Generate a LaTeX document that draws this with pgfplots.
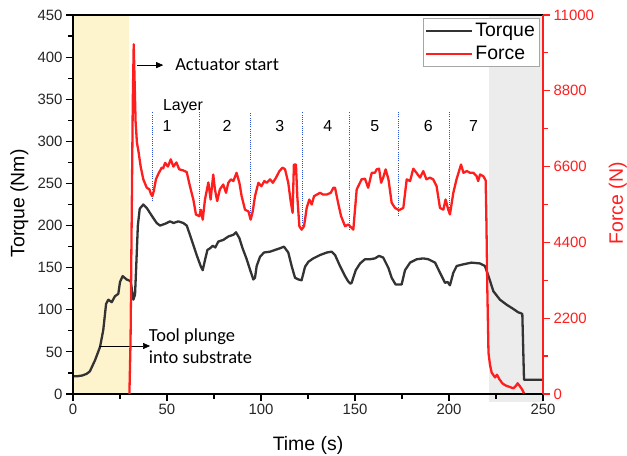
\documentclass[border=0pt]{standalone}
\usepackage{pgfplots}
\pgfplotsset{compat=1.18}
\usepackage{fontspec}
\setmainfont{Liberation Sans}
\newfontfamily\calibri{Carlito}
\usetikzlibrary{arrows.meta}

\definecolor{myred}{RGB}{255,30,30}
\definecolor{mydark}{RGB}{51,51,51}
\definecolor{myyellow}{RGB}{253,243,205}
\definecolor{mygrey}{RGB}{236,236,236}
\definecolor{myblue}{RGB}{40,80,220}
\tikzset{
 layerlab/.style={font=\fontsize{16}{19}\selectfont},
 vline/.style={myblue, line width=0.9bp, dash pattern=on 0.8bp off 1.4bp},
}

\begin{document}
\begin{tikzpicture}
\begin{axis}[
 at={(0,0)}, anchor=south west,
 scale only axis, width=470bp, height=379bp,
 xmin=0, xmax=250, ymin=0, ymax=450,
 xtick={0,50,100,150,200,250}, ytick={0,50,100,150,200,250,300,350,400,450},
 minor x tick num=1, minor y tick num=1,
 tick align=outside, xtick pos=bottom, ytick pos=left,
 major tick length=7bp, minor tick length=4.5bp,
 axis line style={line width=1.5bp, black},
 every tick/.style={line width=1.2bp, black},
 tick label style={font=\fontsize{15}{17}\selectfont, text=black!85},
 /pgf/number format/assume math mode=true,
 xlabel={Time (s)}, ylabel={Torque (Nm)},
 label style={font=\fontsize{19.5}{22}\selectfont},
 xlabel style={at={(axis description cs:0.5,-0.137)}, anchor=center},
 ylabel style={at={(axis description cs:-0.114,0.503)}, anchor=center},
 axis on top, clip=false,
]
\addplot[fill=myyellow, draw=none, forget plot] coordinates {(0,0)(30,0)(30,450)(0,450)} -- cycle;
\addplot[fill=mygrey, draw=none, forget plot] coordinates {(221.3,-9)(250,-9)(250,450)(221.3,450)} -- cycle;

\addplot[vline, forget plot] coordinates {(42.4,229)(42.4,334.5)};
\addplot[vline, forget plot] coordinates {(67.5,211)(67.5,334.5)};
\addplot[vline, forget plot] coordinates {(94.5,215)(94.5,334.5)};
\addplot[vline, forget plot] coordinates {(122.2,195)(122.2,334.5)};
\addplot[vline, forget plot] coordinates {(147,195)(147,334.5)};
\addplot[vline, forget plot] coordinates {(173,211)(173,334.5)};
\addplot[vline, forget plot] coordinates {(200,219)(200,334.5)};

\addplot[mydark, line width=2.3bp, line join=round] coordinates {
(0,21)(2,21)(5,22)(7.3,24)(9,27)(11.7,40)(14.4,56)(16.1,76)(17.6,107)(18.8,112)(20.6,109)(22.3,116)(24.1,119)(25,133)(26.4,140)(28.5,136)(30.7,134)(32.1,112)(33,118)(33.6,150)(34.5,200)(35.5,220)(37.4,225)(39.2,221)(41.8,212)(44.5,203)(46.3,200)(48.9,202)(51.6,205)(53.5,203)(56,205)(58.7,203)(60.5,200)(62.2,189)(64,177)(66.1,163)(67.9,152)(69,147)(70.2,159)(71.5,171)(72.9,173)(74.3,176)(75.7,174)(77.3,181)(80,183)(82.6,187)(85.3,189)(86.7,192)(88.5,185)(90.2,173)(92.4,160)(94.1,148)(95.9,136)(96.8,138)(97.7,152)(99.5,163)(101.6,168)(104.8,169)(107.4,171)(110.1,173)(112.2,175)(114.5,168)(116.3,152)(118.1,138)(119.9,136)(121.6,135)(123.4,151)(125.2,157)(127.8,161)(131.4,165)(135,168)(137.6,169)(139.4,165)(142,152)(144.7,140)(146.3,134)(147.5,131)(148.2,132)(150.4,147)(152.7,155)(155.3,160)(158,160)(160.6,161)(162.8,164)(165,162)(167.7,150)(169.5,138)(171.6,130)(174.8,130)(176.6,147)(179.3,156)(182.8,160)(186.3,161)(189,160)(192.6,156)(195.2,144)(197.9,132)(199.3,133)(200.5,129)(202.3,144)(204.1,152)(207.7,154)(212,156)(216.5,155)(219.1,152)(221,140)(223.6,122)(227.1,112)(230.7,106)(234.2,101)(236.8,97)(238.1,96)(239,95)(239.9,17)(250,17)
};

\draw[-{Triangle[length=7bp,width=6bp]}, line width=0.6bp] (axis cs:34.3,390.5) -- (axis cs:48,390.5);
\node[anchor=west, inner sep=0pt, font=\calibri\fontsize{18.5}{21}\selectfont] at (axis cs:54.3,390.5) {Actuator start};
\draw[-{Triangle[length=7bp,width=6bp]}, line width=0.6bp] (axis cs:13.8,57) -- (axis cs:41,57);
\node[anchor=west, inner sep=0pt, align=left, font=\calibri\fontsize{18.5}{22}\selectfont] at (axis cs:40.3,57) {Tool plunge\\into substrate};

\node[layerlab] at (axis cs:58.5,341.7) {Layer};
\node[layerlab] at (axis cs:50,318) {1};
\node[layerlab] at (axis cs:82,318) {2};
\node[layerlab] at (axis cs:110,318) {3};
\node[layerlab] at (axis cs:135.6,318) {4};
\node[layerlab] at (axis cs:160.6,318) {5};
\node[layerlab] at (axis cs:189,318) {6};
\node[layerlab] at (axis cs:213,318) {7};
\end{axis}

\begin{axis}[
 at={(0,0)}, anchor=south west,
 scale only axis, width=470bp, height=379bp,
 xmin=0, xmax=250, ymin=0, ymax=11000,
 axis x line=none, axis y line*=right,
 ytick={0,2200,4400,6600,8800,11000}, minor y tick num=1,
 tick align=outside, major tick length=7bp, minor tick length=4.5bp,
 axis line style={line width=1.5bp, myred},
 every tick/.style={line width=1.2bp, myred},
 yticklabel style={font=\fontsize{15}{17}\selectfont, text=myred},
 /pgf/number format/assume math mode=true,
 /pgf/number format/1000 sep={},
 scaled y ticks=false,
 ylabel={Force (N)},
 ylabel style={font=\fontsize{19.5}{22}\selectfont, text=myred, at={(axis description cs:1.159,0.503)}, anchor=center},
 legend style={at={(axis description cs:0.9915,0.992)}, anchor=north east, draw=gray!70, fill=white, font=\fontsize{19.5}{22}\selectfont, inner xsep=2bp, inner ysep=3bp, row sep=4.5bp},
 legend cell align=left,
 legend image code/.code={\draw[line width=2bp,#1] (0bp,0bp) -- (46bp,0bp);},
]
\addlegendimage{mydark}
\addlegendentry{Torque}
\addplot[myred, line width=2.3bp, line join=round] coordinates {
(30,0)(30.6,1500)(31.2,5000)(31.8,8500)(32.3,10150)(32.8,9000)(33.3,7900)(34,7300)(34.8,7050)(36,6600)(37.4,6230)(39.2,5990)(40.6,5940)(41.5,5800)(42.2,5740)(43,5900)(44.1,6230)(45.5,6400)(47.2,6570)(48,6550)(49,6710)(50.5,6600)(52,6810)(53.4,6600)(55,6720)(56.5,6520)(58.6,6490)(60.5,6440)(62.2,6030)(64,5645)(65.4,5210)(67.2,5160)(68,5350)(69,5060)(70.2,5645)(72,6140)(73.2,5645)(74.6,6370)(75.5,5935)(76.7,5600)(78.1,5935)(79.9,6080)(81.4,5840)(82.6,6130)(84,6230)(85.3,6180)(87,6420)(88.5,6130)(89.7,5740)(91.5,5350)(93.3,5300)(94.5,5060)(95.6,5300)(96.8,5740)(98.6,6130)(100.2,6030)(101.8,6180)(103,6130)(104.8,6230)(106.3,6130)(108,6280)(109.8,6470)(111.5,6570)(112.8,6520)(114.5,6130)(115.8,5590)(116.8,5260)(117.5,6660)(118.6,6660)(119.3,5740)(120.4,4870)(121.6,4770)(122.9,4870)(124.3,5400)(125.7,5645)(127,5500)(128.2,5740)(129.8,5790)(131.4,5840)(133,5790)(135,5790)(137.1,5840)(138.5,5985)(139.4,5985)(141,5550)(142.6,5160)(144.7,4870)(146.5,4920)(149.1,4770)(150.9,5935)(153.5,6230)(155.3,6250)(157,5985)(158.9,6420)(160.6,6420)(161.5,6520)(162.8,6540)(163.9,6130)(165,6280)(166.3,6520)(167.8,6230)(169.5,5550)(171.3,5400)(173.4,5335)(175.7,5400)(177.5,6230)(179.3,6180)(181,6540)(182.7,6420)(184.6,6280)(186.3,6470)(188,6230)(189.8,6280)(191.6,6230)(193.4,6030)(195.2,5400)(197,5350)(198.2,5645)(199.6,5350)(200.5,5210)(202.3,5840)(204,6230)(206.4,6660)(207.7,6420)(209.5,6470)(211.2,6420)(213,6420)(214.7,6320)(215.5,6180)(216.5,6370)(218.3,6320)(219.5,6200)(219.9,5000)(220.4,3000)(221,1200)(221.8,850)(222.7,620)(224.5,480)(225.5,560)(226.8,430)(228.4,310)(230,250)(232,210)(234.2,165)(235.5,230)(236.5,310)(237.5,240)(238.7,150)(239.9,20)
};
\addlegendentry{Force}
\end{axis}
\pgfresetboundingbox
\path[use as bounding box] (-73bp,-62bp) rectangle (554bp,394bp);
\end{tikzpicture}
\end{document}
